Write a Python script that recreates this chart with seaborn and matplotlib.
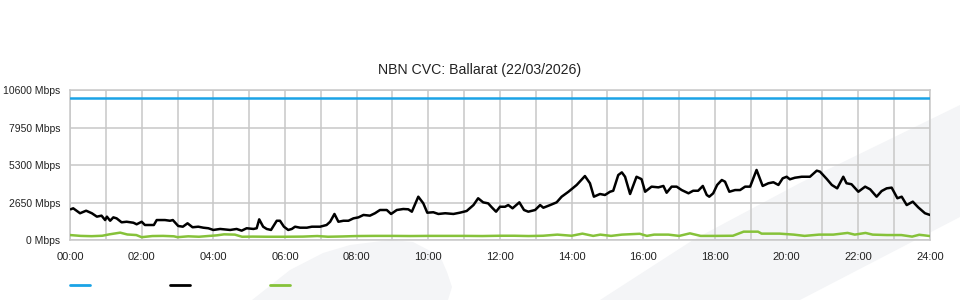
import numpy as np
import pandas as pd
import matplotlib
matplotlib.use("Agg")
import matplotlib.pyplot as plt
from matplotlib.patches import Polygon
from matplotlib.lines import Line2D
import seaborn as sns

title = "NBN CVC: Ballarat (22/03/2026)"
y_ticks = [0, 2650, 5300, 7950, 10600]
y_tick_labels = ["0 Mbps", "2650 Mbps", "5300 Mbps", "7950 Mbps", "10600 Mbps"]
x_ticks = list(range(0, 25, 2))
x_tick_labels = ["%02d:00" % h for h in x_ticks]

capacity_hours = [0, 24]
capacity_values = [10000, 10000]

traffic_hours = [0.02, 0.09, 0.28, 0.45, 0.61, 0.75, 0.88, 0.98, 1.03, 1.12, 1.21, 1.30,
                 1.44, 1.58, 1.77, 1.86, 2.00, 2.09, 2.34, 2.42, 2.65, 2.79, 2.87, 3.02,
                 3.15, 3.28, 3.42, 3.58, 3.72, 3.86, 4.00, 4.19, 4.47, 4.65, 4.79, 4.93,
                 5.12, 5.21, 5.28, 5.39, 5.49, 5.61, 5.77, 5.86, 5.97, 6.09, 6.19, 6.28,
                 6.42, 6.61, 6.75, 6.98, 7.16, 7.26, 7.38, 7.49, 7.63, 7.77, 7.91, 8.05,
                 8.19, 8.37, 8.51, 8.65, 8.84, 8.96, 9.12, 9.30, 9.44, 9.54, 9.72, 9.86,
                 9.97, 10.14, 10.28, 10.47, 10.70, 10.88, 11.07, 11.26, 11.39, 11.53, 11.67, 11.77,
                 11.89, 12.00, 12.14, 12.23, 12.35, 12.54, 12.67, 12.79, 12.98, 13.12, 13.21, 13.40,
                 13.58, 13.72, 13.91, 14.14, 14.37, 14.51, 14.62, 14.79, 14.93, 15.07, 15.16, 15.30,
                 15.40, 15.49, 15.63, 15.81, 15.95, 16.05, 16.23, 16.42, 16.56, 16.65, 16.79, 16.93,
                 17.07, 17.26, 17.39, 17.53, 17.66, 17.77, 17.84, 17.95, 18.06, 18.19, 18.28, 18.40,
                 18.56, 18.70, 18.84, 18.98, 19.16, 19.33, 19.49, 19.63, 19.77, 19.89, 20.00, 20.09,
                 20.23, 20.42, 20.65, 20.84, 20.93, 21.12, 21.26, 21.41, 21.58, 21.67, 21.81, 22.00,
                 22.19, 22.33, 22.51, 22.65, 22.79, 22.93, 23.09, 23.21, 23.35, 23.52, 23.67, 23.86,
                 24.00]
traffic_values = [2170, 2240, 1890, 2070, 1890, 1650, 1720, 1410, 1650, 1360, 1600, 1530,
                  1250, 1290, 1220, 1110, 1290, 1060, 1060, 1410, 1410, 1360, 1410, 990,
                  940, 1180, 900, 940, 870, 830, 710, 780, 710, 780, 660, 830,
                  780, 830, 1460, 940, 780, 710, 1360, 1360, 940, 710, 780, 940,
                  870, 870, 940, 940, 1060, 1290, 1840, 1290, 1360, 1360, 1530, 1600,
                  1770, 1720, 1890, 2120, 2120, 1840, 2120, 2190, 2170, 2000, 3060, 2590,
                  1930, 1960, 1840, 1890, 1840, 1930, 2050, 2470, 2950, 2660, 2590, 2310,
                  2000, 2350, 2350, 2470, 2240, 2660, 2120, 2000, 2120, 2470, 2280, 2470,
                  2660, 3060, 3410, 3890, 4520, 4010, 3060, 3250, 3180, 3410, 3480, 4590,
                  4780, 4470, 3250, 4470, 4300, 3410, 3770, 3720, 3820, 3340, 3770, 3770,
                  3530, 3300, 3480, 3480, 3820, 3180, 3060, 3300, 3890, 4240, 4120, 3410,
                  3530, 3530, 3770, 3770, 4950, 3820, 4010, 4080, 3890, 4360, 4470, 4290,
                  4400, 4470, 4470, 4900, 4830, 4310, 3890, 3650, 4470, 4010, 3940, 3410,
                  3770, 3580, 3060, 3460, 3650, 3700, 2950, 3060, 2470, 2710, 2310, 1890,
                  1770]

usage_hours = [0.0, 0.3, 0.6, 0.9, 1.1, 1.4, 1.6, 1.85, 2.0, 2.3, 2.6, 2.9,
               3.0, 3.3, 3.6, 3.9, 4.1, 4.3, 4.6, 4.8, 5.1, 5.5, 6.0, 6.5,
               6.9, 7.2, 7.6, 8.0, 8.5, 9.0, 9.5, 10.0, 10.5, 11.0, 11.5, 12.0,
               12.4, 12.8, 13.2, 13.6, 14.0, 14.3, 14.6, 14.8, 15.1, 15.4, 15.9, 16.1,
               16.3, 16.7, 17.0, 17.3, 17.6, 18.0, 18.5, 18.8, 19.2, 19.3, 19.8, 20.2,
               20.5, 20.9, 21.3, 21.7, 21.9, 22.2, 22.4, 22.8, 23.2, 23.5, 23.7, 24.0]
usage_values = [350, 290, 270, 300, 400, 520, 390, 350, 200, 280, 290, 260,
                200, 260, 230, 290, 330, 400, 380, 230, 240, 230, 230, 240,
                280, 230, 250, 280, 290, 290, 280, 290, 290, 290, 280, 300,
                300, 280, 300, 380, 300, 450, 290, 380, 290, 380, 440, 290,
                380, 380, 290, 470, 290, 290, 300, 590, 590, 450, 450, 380,
                290, 380, 380, 500, 380, 500, 380, 350, 350, 240, 370, 280]

blue = "#1aa3e6"
black = "#000000"
green = "#86c23a"
grid_col = "#c8c8c8"
wm_col = "#f4f5f7"

sns.set_style("white")
plt.rcParams["font.family"] = ["Liberation Sans", "DejaVu Sans"]

fig = plt.figure(figsize=(9.6, 3.0), dpi=100)
fig.patch.set_facecolor("white")

W, H = 960.0, 300.0
def fpts(pts):
    return [(x / W, 1 - y / H) for x, y in pts]

band = fpts([(600, 300), (693, 240), (800, 183), (960, 105), (960, 217), (800, 300)])
blob = fpts([(252, 300), (290, 270), (323, 253), (350, 245), (390, 240), (413, 242),
             (440, 256), (447, 272), (452, 287), (448, 300)])
for pts in (band, blob):
    fig.patches.append(Polygon(pts, closed=True, transform=fig.transFigure,
                               facecolor=wm_col, edgecolor="none", zorder=-10))

ax = fig.add_axes([70 / W, 1 - 240 / H, 860 / W, 150 / H])
ax.set_zorder(5)
ax.patch.set_alpha(0)

cap_df = pd.DataFrame({"hour": capacity_hours, "mbps": capacity_values})
tr_df = pd.DataFrame({"hour": traffic_hours, "mbps": traffic_values})
us_df = pd.DataFrame({"hour": usage_hours, "mbps": usage_values})

sns.lineplot(data=cap_df, x="hour", y="mbps", ax=ax, color=blue, lw=1.8, zorder=4)
sns.lineplot(data=tr_df, x="hour", y="mbps", ax=ax, color=black, lw=1.8, zorder=5)
sns.lineplot(data=us_df, x="hour", y="mbps", ax=ax, color=green, lw=1.8, zorder=4)

ax.set_xlim(0, 24)
ax.set_ylim(0, 10600)
ax.set_xticks(x_ticks)
ax.set_xticklabels(x_tick_labels, fontsize=8, color="#222222")
ax.set_xticks(range(0, 25), minor=True)
ax.set_yticks(y_ticks)
ax.set_yticklabels(y_tick_labels, fontsize=7.5, color="#222222")
ax.set_xlabel("")
ax.set_ylabel("")
ax.tick_params(axis="x", which="major", length=7, width=1, color=grid_col, pad=2)
ax.tick_params(axis="x", which="minor", length=0)
ax.tick_params(axis="y", length=0, pad=7)
ax.grid(True, which="both", axis="x", color=grid_col, lw=1.1, zorder=1)
ax.grid(True, which="major", axis="y", color=grid_col, lw=1.1, zorder=1)
for s in ax.spines.values():
    s.set_color(grid_col)
    s.set_linewidth(1.1)

fig.text(480 / W, 1 - 70 / H, title, ha="center", va="center", fontsize=10.2, color="#222222")

for x0, c in [(70, blue), (170, black), (270, green)]:
    fig.add_artist(Line2D([x0 / W, (x0 + 20) / W], [1 - 285 / H, 1 - 285 / H],
                          transform=fig.transFigure, color=c, lw=2))

fig.savefig("out.png", dpi=100)
